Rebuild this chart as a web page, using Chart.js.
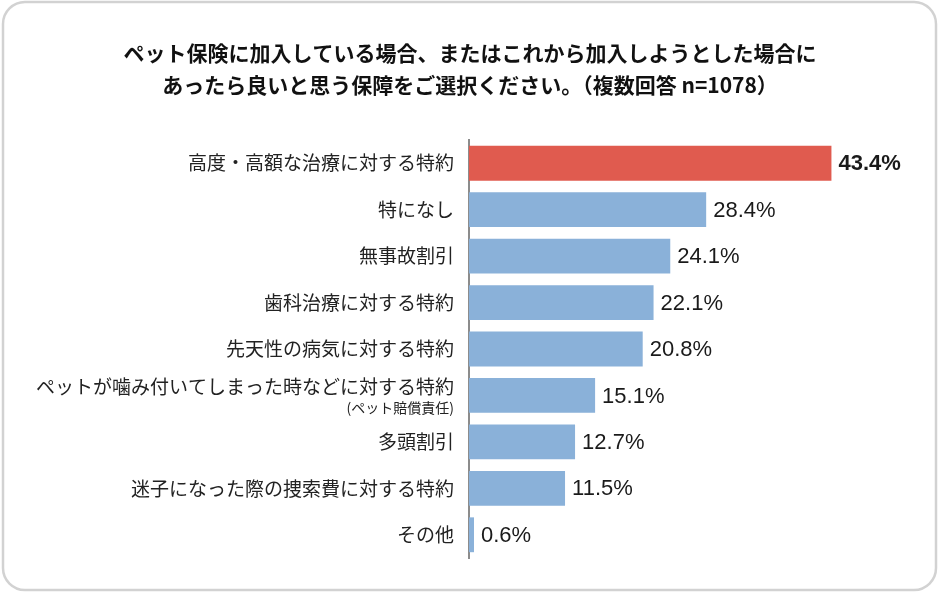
<!DOCTYPE html>
<html lang="ja">
<head>
    <meta charset="UTF-8">
    <title>ペット保険 特約</title>
    <script src="https://cdn.jsdelivr.net/npm/chart.js"></script>
    <style>
        body {
            margin: 0;
            background: #fff;
        }
        canvas {
            display: block;
        }
    </style>
</head>
<body>
    <canvas id="chart" width="940" height="593"></canvas>
    <script>
        const titleLines = [
            'ペット保険に加入している場合、またはこれから加入しようとした場合に',
            'あったら良いと思う保障をご選択ください。（複数回答 n=1078）'
        ];
        const categories = [
            '高度・高額な治療に対する特約',
            '特になし',
            '無事故割引',
            '歯科治療に対する特約',
            '先天性の病気に対する特約',
            ['ペットが噛み付いてしまった時などに対する特約', ''],
            '多頭割引',
            '迷子になった際の捜索費に対する特約',
            'その他'
        ];
        const subLabelIndex = 5;
        const subLabel = '(ペット賠償責任)';
        const values = [43.4, 28.4, 24.1, 22.1, 20.8, 15.1, 12.7, 11.5, 0.6];

        const jpFont = '"Noto Sans CJK JP", "Noto Sans", sans-serif';
        const numFont = '"Liberation Sans", Arial, sans-serif';

        // rounded frame around the whole figure
        const framePlugin = {
            id: 'frame',
            beforeDraw(chart) {
                const ctx = chart.ctx;
                ctx.save();
                ctx.fillStyle = '#fff';
                ctx.fillRect(0, 0, chart.width, chart.height);
                ctx.strokeStyle = '#d2d2d2';
                ctx.lineWidth = 2.5;
                ctx.beginPath();
                ctx.roundRect(3, 2, 933, 588, 22);
                ctx.stroke();
                ctx.restore();
            }
        };

        // percentage labels at the end of each bar
        const valueLabels = {
            id: 'valueLabels',
            afterDatasetsDraw(chart) {
                const ctx = chart.ctx;
                const meta = chart.getDatasetMeta(0);
                ctx.save();
                ctx.textBaseline = 'middle';
                ctx.textAlign = 'left';
                meta.data.forEach((bar, i) => {
                    ctx.font = (i === 0 ? 'bold ' : '') + '22px ' + numFont;
                    ctx.fillStyle = '#1a1a1a';
                    ctx.fillText(values[i].toFixed(1) + '%', bar.x + 7, bar.y + 1);
                });
                ctx.restore();
            }
        };

        // smaller second line under one category label
        const subLabelPlugin = {
            id: 'subLabel',
            afterDraw(chart) {
                const y = chart.scales.y;
                const ctx = chart.ctx;
                ctx.save();
                ctx.font = '14px ' + jpFont;
                ctx.fillStyle = '#222';
                ctx.textAlign = 'right';
                ctx.textBaseline = 'middle';
                ctx.fillText(subLabel, y.right - 15, y.getPixelForTick(subLabelIndex) + 12);
                ctx.restore();
            }
        };

        new Chart(document.getElementById('chart'), {
            type: 'bar',
            data: {
                labels: categories,
                datasets: [{
                    data: values,
                    backgroundColor: values.map((v, i) => i === 0 ? '#e05b4f' : '#8ab1d9'),
                    borderWidth: 0,
                    barPercentage: 0.75,
                    categoryPercentage: 1
                }]
            },
            options: {
                indexAxis: 'y',
                responsive: false,
                animation: false,
                devicePixelRatio: 1,
                layout: {
                    padding: { top: 0, right: 0, bottom: 35, left: 0 }
                },
                scales: {
                    x: {
                        display: false,
                        min: 0,
                        max: 56.4
                    },
                    y: {
                        afterFit(scale) {
                            scale.width = 469;
                        },
                        grid: { display: false, drawTicks: false },
                        border: { display: true, color: '#8c8c8c', width: 2 },
                        ticks: {
                            padding: 15,
                            color: '#222',
                            font: { family: jpFont, size: 19, lineHeight: 18 / 19 }
                        }
                    }
                },
                plugins: {
                    legend: { display: false },
                    tooltip: { enabled: false },
                    title: {
                        display: true,
                        text: titleLines,
                        color: '#111',
                        font: { family: jpFont, size: 21, weight: 'bold', lineHeight: 32 / 21 },
                        padding: { top: 37, bottom: 39 }
                    }
                }
            },
            plugins: [framePlugin, valueLabels, subLabelPlugin]
        });
    </script>
</body>
</html>
